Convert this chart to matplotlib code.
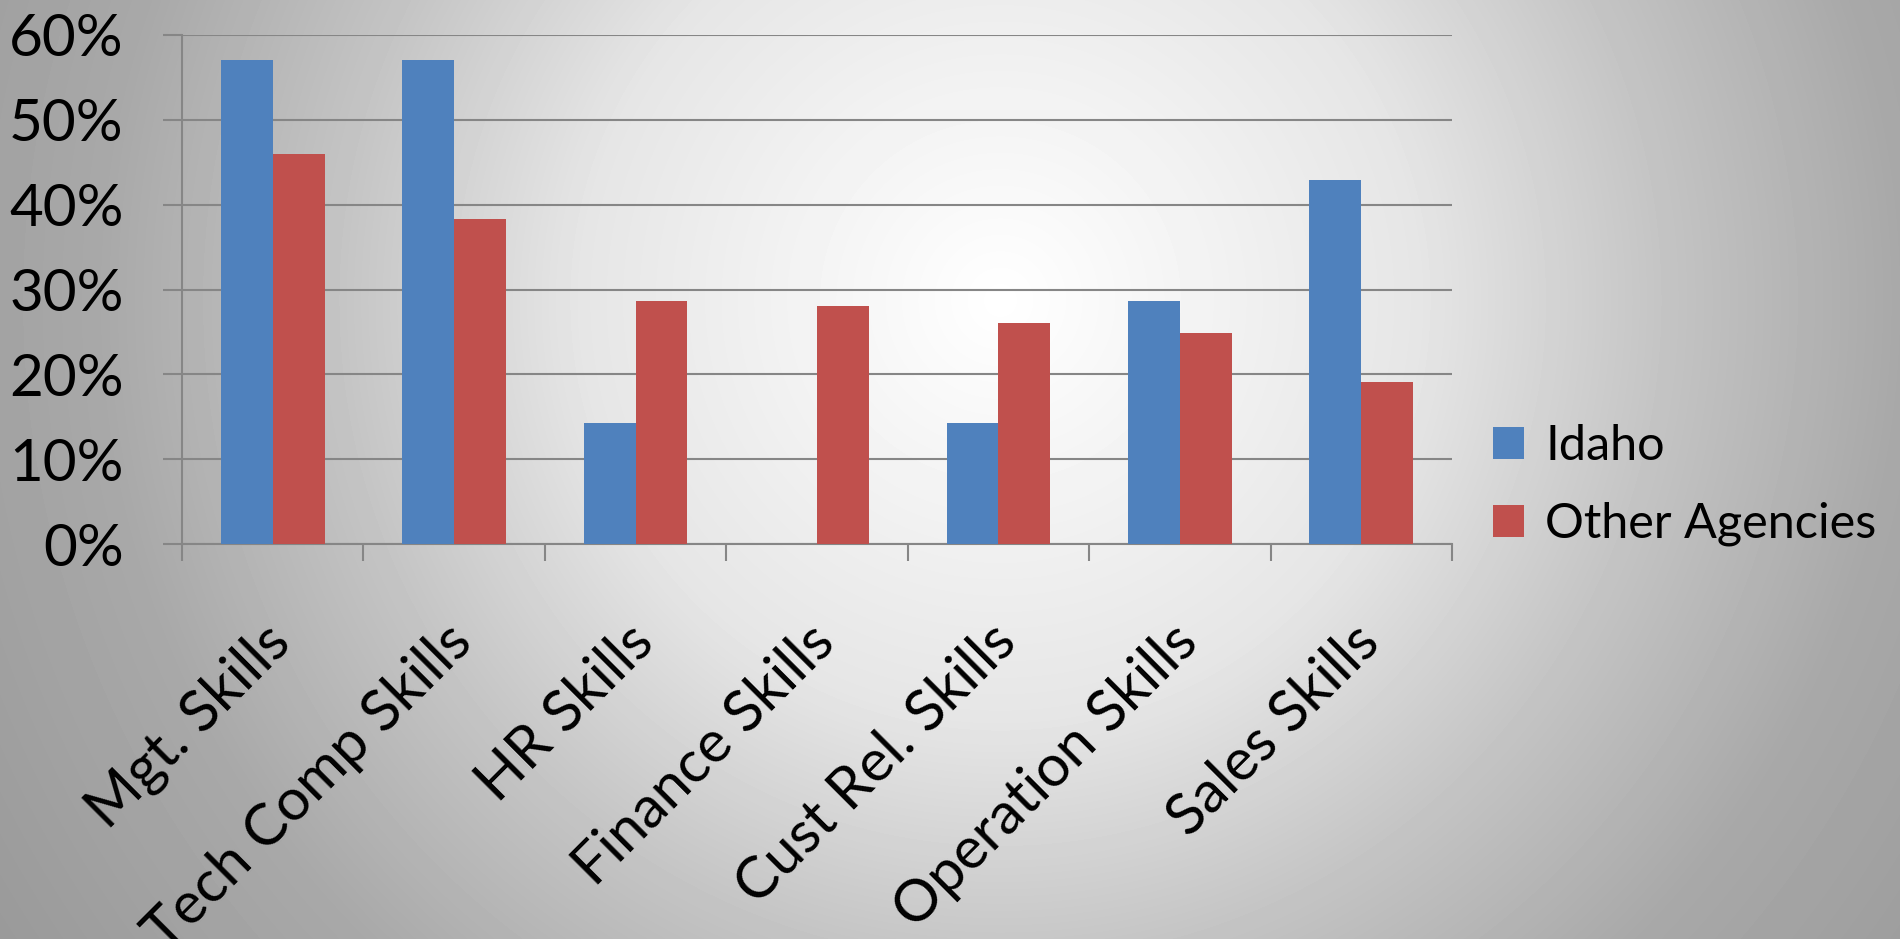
import matplotlib
matplotlib.use('Agg')
import matplotlib.pyplot as plt
import numpy as np
from matplotlib.ticker import FixedLocator, FuncFormatter

plt.rcParams['font.family'] = ['Lato', 'DejaVu Sans']

# data (percent)
categories = ['Mgt. Skills', 'Tech Comp Skills', 'HR Skills', 'Finance Skills',
              'Cust Rel. Skills', 'Operation Skills', 'Sales Skills']
idaho = [57.1, 57.1, 14.3, 0.0, 14.3, 28.6, 42.9]
other_agencies = [46.0, 38.3, 28.7, 28.1, 26.1, 24.9, 19.1]
series_names = ['Idaho', 'Other Agencies']

W, H = 1900, 939
fig = plt.figure(figsize=(W / 100, H / 100), dpi=100)

# radial grey background, white spot near top middle
yy, xx = np.mgrid[0:H, 0:W]
d = np.sqrt((xx - 1000.0) ** 2 + (yy - 300.0) ** 2) / 1200.0
stops_t = [0.0, 0.35, 0.55, 0.75, 1.0, 2.0]
stops_c = [1.0, 0.90, 0.77, 0.66, 0.60, 0.55]
bg = np.interp(d, stops_t, stops_c)
fig.figimage(bg, cmap='gray', vmin=0, vmax=1, origin='upper', zorder=-10)

ax = fig.add_axes([182 / W, 395 / H, (1452 - 182) / W, (904 - 395) / H])
ax.set_facecolor('none')

x = np.arange(len(categories))
w = 1 / 3.5
ax.bar(x - w / 2, idaho, w, color='#4F81BD', label=series_names[0], zorder=3)
ax.bar(x + w / 2, other_agencies, w, color='#C0504D', label=series_names[1], zorder=3)

ax.set_xlim(-0.5, len(categories) - 0.5)
ax.set_ylim(0, 60)

grid_c = '#868686'
ax.set_yticks(np.arange(0, 61, 10))
ax.yaxis.set_major_formatter(FuncFormatter(lambda v, p: f'{v:.0f}%'))
ax.grid(axis='y', color=grid_c, linewidth=1.5, zorder=1)
ax.tick_params(axis='y', length=14, width=1.5, color=grid_c, pad=28, labelsize=42)

ax.xaxis.set_major_locator(FixedLocator(np.arange(-0.5, len(categories), 1.0)))
ax.set_xticklabels([])
ax.tick_params(axis='x', length=12, width=1.5, color=grid_c)

for s in ['top', 'right']:
    ax.spines[s].set_visible(False)
for s in ['left', 'bottom']:
    ax.spines[s].set_color(grid_c)
    ax.spines[s].set_linewidth(1.5)

for i, cat in enumerate(categories):
    ax.annotate(cat, xy=(i, 0), xycoords=('data', 'axes fraction'),
                xytext=(4, -62), textcoords='offset points',
                rotation=45, rotation_mode='anchor', ha='right',
                va='center_baseline', fontsize=42, annotation_clip=False)

ax.legend(loc='center left', bbox_to_anchor=(1493 / W, (939 - 485) / H),
          bbox_transform=fig.transFigure, frameon=False, fontsize=35,
          handlelength=0.64, handleheight=0.64, handletextpad=0.43,
          labelspacing=0.7, borderpad=0, borderaxespad=0)

fig.savefig('out.png', dpi=100)
